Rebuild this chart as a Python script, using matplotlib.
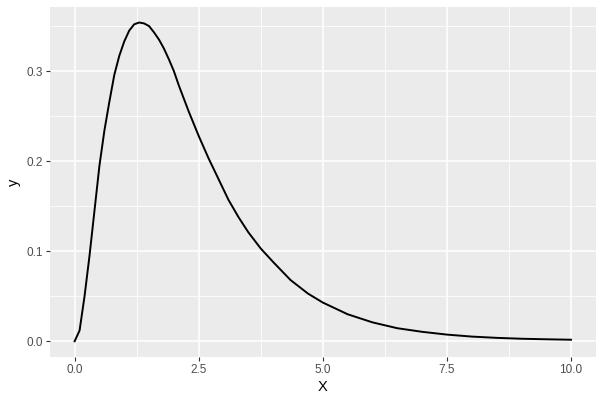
import numpy as np
import matplotlib
matplotlib.use("Agg")
import matplotlib.pyplot as plt
import matplotlib.ticker as ticker

plt.rcParams['font.family'] = ['Liberation Sans', 'DejaVu Sans']

# values
x = [0, 0.1, 0.2, 0.3, 0.4, 0.5, 0.6, 0.7, 0.8, 0.9, 1.0, 1.1, 1.2, 1.3, 1.4,
     1.5, 1.6, 1.7, 1.8, 1.9, 2.0, 2.1, 2.3, 2.5, 2.7, 2.9, 3.1, 3.3, 3.5,
     3.75, 4.0, 4.35, 4.7, 5.0, 5.5, 6.0, 6.5, 7.0, 7.5, 8.0, 8.5, 9.0, 9.5,
     10.0]
y = [0, 0.012, 0.05, 0.095, 0.145, 0.195, 0.234, 0.266, 0.296, 0.317, 0.333,
     0.345, 0.352, 0.354, 0.353, 0.350, 0.343, 0.335, 0.325, 0.313, 0.300,
     0.284, 0.255, 0.228, 0.203, 0.180, 0.157, 0.138, 0.121, 0.103, 0.088,
     0.068, 0.053, 0.043, 0.030, 0.021, 0.0145, 0.0105, 0.0074, 0.0052,
     0.0038, 0.0028, 0.0022, 0.0017]

xticks = [0, 2.5, 5, 7.5, 10]
yticks = [0, 0.1, 0.2, 0.3]

fig = plt.figure(figsize=(6, 4), dpi=100)
ax = fig.add_axes([0.083, 0.107, 0.91, 0.875])
ax.set_facecolor('#EBEBEB')
for s in ax.spines.values():
    s.set_visible(False)

ax.plot(x, y, color='black', linewidth=1.4, zorder=3)

ax.set_xlim(-0.5, 10.5)
ax.set_ylim(-0.0177, 0.371)
ax.set_xticks(xticks)
ax.set_xticklabels(['0.0', '2.5', '5.0', '7.5', '10.0'])
ax.set_yticks(yticks)
ax.set_yticklabels(['0.0', '0.1', '0.2', '0.3'])
ax.xaxis.set_minor_locator(ticker.FixedLocator([1.25, 3.75, 6.25, 8.75]))
ax.yaxis.set_minor_locator(ticker.FixedLocator([0.05, 0.15, 0.25, 0.35]))

ax.grid(which='major', color='white', linewidth=1.1)
ax.grid(which='minor', color='white', linewidth=0.55)
ax.set_axisbelow(True)

ax.tick_params(which='major', length=3, width=0.8, color='#333333',
               labelcolor='#4D4D4D', labelsize=8.5, pad=2)
ax.tick_params(which='minor', length=0)

ax.set_xlabel('X', fontsize=10.5, labelpad=3)
ax.set_ylabel('y', fontsize=10.5, labelpad=4)

fig.savefig('out.png', dpi=100)
